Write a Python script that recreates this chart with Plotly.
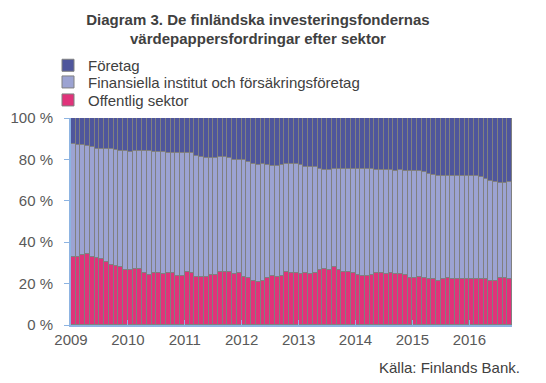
import plotly.graph_objects as go

# Monthly data Jan 2009 - Sep 2016 (percent shares)
offentlig = [32.9,32.9,33.7,34.2,32.9,32.6,32.1,30.5,28.9,28.4,27.8,26.5,26.5,27.1,27.1,24.9,24.1,24.9,24.9,24.4,25.2,25.2,23.6,23.9,25.4,25.2,23.3,23.3,23.3,24.1,24.1,
             25.4,25.4,25.8,24.4,24.9,23.3,22.5,21.3,21.0,21.3,22.5,23.6,23.3,23.6,25.4,24.9,25.2,24.6,25.2,24.6,24.9,26.5,27.1,26.8,28.1,26.8,25.4,25.7,24.9,24.1,
             23.8,23.8,24.1,25.2,24.9,24.6,24.9,24.6,24.6,24.1,22.8,22.8,23.3,22.5,22.2,22.0,21.3,22.0,22.8,22.2,22.2,22.2,22.2,22.2,22.2,22.2,22.2,21.3,21.3,22.5,22.5,22.2]
finansiella = [54.6,54.3,53.1,52.2,53.0,52.6,52.8,54.3,55.9,56.2,56.5,57.4,57.1,57.0,57.2,59.4,59.8,58.9,58.6,59.1,57.9,57.8,59.4,59.1,57.6,57.8,58.4,57.8,57.3,56.5,56.6,
               55.7,55.7,54.9,55.4,54.9,56.2,56.2,56.5,56.5,56.5,55.0,53.4,53.7,53.8,52.4,52.9,52.6,52.8,51.0,51.6,51.3,48.9,47.9,48.2,47.3,48.6,50.0,49.7,50.5,51.3,
               51.6,51.6,51.3,49.9,50.2,50.5,50.2,50.0,50.4,50.1,51.4,51.8,51.3,51.3,50.8,50.6,50.9,50.2,49.4,50.0,50.0,49.7,49.7,49.7,49.7,49.2,48.4,48.5,48.0,46.0,46.0,46.8]
foretag = [12.5,12.8,13.2,13.6,14.1,14.8,15.1,15.2,15.2,15.4,15.7,16.1,16.4,15.9,15.7,15.7,16.1,16.2,16.5,16.5,16.9,17.0,17.0,17.0,17.0,17.0,18.3,18.9,19.4,19.4,19.3,
           18.9,18.9,19.3,20.2,20.2,20.5,21.3,22.2,22.5,22.2,22.5,23.0,23.0,22.6,22.2,22.2,22.2,22.6,23.8,23.8,23.8,24.6,25.0,25.0,24.6,24.6,24.6,24.6,24.6,24.6,
           24.6,24.6,24.6,24.9,24.9,24.9,24.9,25.4,25.0,25.8,25.8,25.4,25.4,26.2,27.0,27.4,27.8,27.8,27.8,27.8,27.8,28.1,28.1,28.1,28.1,28.6,29.4,30.2,30.7,31.5,31.5,31.0]
year_labels = ["2009", "2010", "2011", "2012", "2013", "2014", "2015", "2016"]
y_ticks = [0, 20, 40, 60, 80, 100]

n = len(offentlig)
x = [i + 0.5 for i in range(n)]
line = dict(color="#808080", width=1)

fig = go.Figure()
fig.add_bar(x=x, y=offentlig, name="Offentlig sektor", legend="legend3",
            marker=dict(color="#E0337A", line=line))
fig.add_bar(x=x, y=finansiella, name="Finansiella institut och försäkringsföretag", legend="legend2",
            marker=dict(color="#9CA3D2", line=line))
fig.add_bar(x=x, y=foretag, name="Företag", legend="legend",
            marker=dict(color="#4F569C", line=line))

W, H = 546.0, 383.0
axis_col = "#8DB4E2"
text_col = "#404040"


def leg(top):
    return dict(x=40 / W, xref="container", xanchor="left", y=1 - top / H, yref="container", yanchor="top",
                font=dict(size=15, color=text_col), bgcolor="rgba(0,0,0,0)", borderwidth=0)


fig.update_layout(
    width=546, height=383,
    barmode="stack", bargap=0,
    paper_bgcolor="white", plot_bgcolor="white",
    margin=dict(l=63, r=42, t=110, b=66, autoexpand=False),
    font=dict(family="Liberation Sans, Arial, sans-serif", size=15, color=text_col),
    title=dict(text="<b>Diagram 3. De finländska investeringsfondernas<br>värdepappersfordringar efter sektor</b>",
               x=250 / W, xanchor="center", xref="container", y=1 - 16.5 / H, yanchor="middle", yref="container",
               font=dict(size=15, color=text_col)),
    showlegend=True,
    legend=leg(41),
    legend2=leg(57.7),
    legend3=leg(75.7),
    xaxis=dict(range=[0, n], tickmode="array", tickvals=[12 * i for i in range(len(year_labels))],
               ticktext=year_labels, showline=True, linecolor=axis_col, linewidth=1.5,
               ticks="inside", ticklen=5, tickcolor=axis_col, showgrid=False, zeroline=False,
               automargin=False, tickfont=dict(size=15, color="#595959")),
    yaxis=dict(range=[0, 100], tickvals=y_ticks, ticktext=[f"{v} %" for v in y_ticks],
               showline=True, linecolor=axis_col, linewidth=2, ticks="outside", ticklen=5,
               tickcolor=axis_col, showgrid=False, zeroline=False, automargin=False,
               ticklabelstandoff=8, tickfont=dict(size=15, color="#595959")),
    annotations=[dict(text="Källa: Finlands Bank.", x=(514 - 63) / 441, xref="paper", xanchor="right",
                      y=(317 - 359) / 207, yref="paper", yanchor="middle", showarrow=False,
                      font=dict(size=15, color=text_col))],
)

fig.write_html("out.html")
